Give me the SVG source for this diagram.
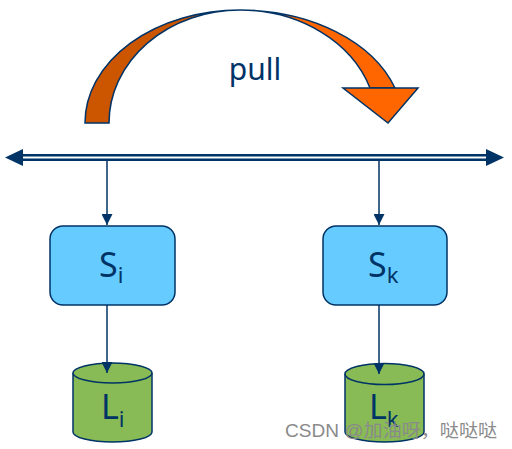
<svg xmlns="http://www.w3.org/2000/svg" width="512" height="449" viewBox="0 0 512 449">
<defs>
<style>
.stk{stroke:#003366;stroke-width:1.5}
.box{fill:#66CCFF;stroke:#003366;stroke-width:1.5}
.cyl{fill:#88BB55;stroke:#003366;stroke-width:1.5}
.lbl{font-family:"Noto Sans","DejaVu Sans",sans-serif;fill:#003366}
.big{font-size:34px}
.sub{font-size:22px}
.wm{font-family:"Liberation Sans","Noto Sans CJK SC",sans-serif;font-size:18px;fill:#8a8a8a}
</style>
<marker id="ah" markerWidth="11" markerHeight="11" refX="11" refY="5.5" orient="auto" markerUnits="userSpaceOnUse">
<path d="M0,0 L11,5.5 L0,11 Z" fill="#003366"/>
</marker>
</defs>
<rect width="512" height="449" fill="#ffffff"/>
<g id="pull-arrow">
<path d="M85,123 A155,113 0 0 1 240,10 A131,113 0 0 0 109,123 Z" fill="#CC5500" class="stk" stroke-width="1.2"/>
<path d="M240,10 A163,113 0 0 1 395,88 L370,88 A137,113 0 0 0 240,10 Z" fill="#FF6600" class="stk" stroke-width="1.2"/>
<path d="M343,88 L418,88 L388,123 Z" fill="#FF6600" class="stk" stroke-width="1.2" stroke-linejoin="miter"/>
<text x="255" y="80" class="lbl" font-size="30" text-anchor="middle">pull</text>
</g>
<g id="bus">
<line x1="20" y1="157.5" x2="490" y2="157.5" stroke="#003366" stroke-width="7"/>
<line x1="20" y1="157.5" x2="490" y2="157.5" stroke="#ffffff" stroke-width="2"/>
<path d="M5,157.5 L23,149 L23,166 Z" fill="#003366"/>
<path d="M504,157.5 L486,149 L486,166 Z" fill="#003366"/>
</g>
<g id="node-Si">
<rect x="50" y="226" width="125" height="79" rx="13" class="box"/>
<text x="99" y="277" class="lbl"><tspan class="big">S</tspan><tspan class="sub" dy="6">i</tspan></text>
</g>
<g id="node-Sk">
<rect x="323" y="226" width="124" height="79" rx="13" class="box"/>
<text x="368" y="277" class="lbl"><tspan class="big">S</tspan><tspan class="sub" dy="6">k</tspan></text>
</g>
<g id="node-Li">
<path d="M73,373 L73,432 A39.5,10 0 0 0 152,432 L152,373" class="cyl"/>
<ellipse cx="112.5" cy="373" rx="39.5" ry="10" class="cyl"/>
<text x="101" y="419" class="lbl"><tspan class="big">L</tspan><tspan class="sub" dy="8">i</tspan></text>
</g>
<g id="node-Lk">
<path d="M345,374 L345,432 A39.5,10 0 0 0 424,432 L424,374" class="cyl"/>
<ellipse cx="384.5" cy="374" rx="39.5" ry="10.5" class="cyl"/>
<text x="369" y="419" class="lbl"><tspan class="big">L</tspan><tspan class="sub" dy="8">k</tspan></text>
</g>
<g id="connectors">
<line x1="107" y1="161" x2="107" y2="225" class="stk" marker-end="url(#ah)"/>
<line x1="379" y1="161" x2="379" y2="225" class="stk" marker-end="url(#ah)"/>
<line x1="107" y1="305" x2="107" y2="373" class="stk" marker-end="url(#ah)"/>
<line x1="379" y1="305" x2="379" y2="374" class="stk" marker-end="url(#ah)"/>
</g>
<text x="285" y="437" class="wm" textLength="212" lengthAdjust="spacingAndGlyphs">CSDN @加油呀，哒哒哒</text>
</svg>
